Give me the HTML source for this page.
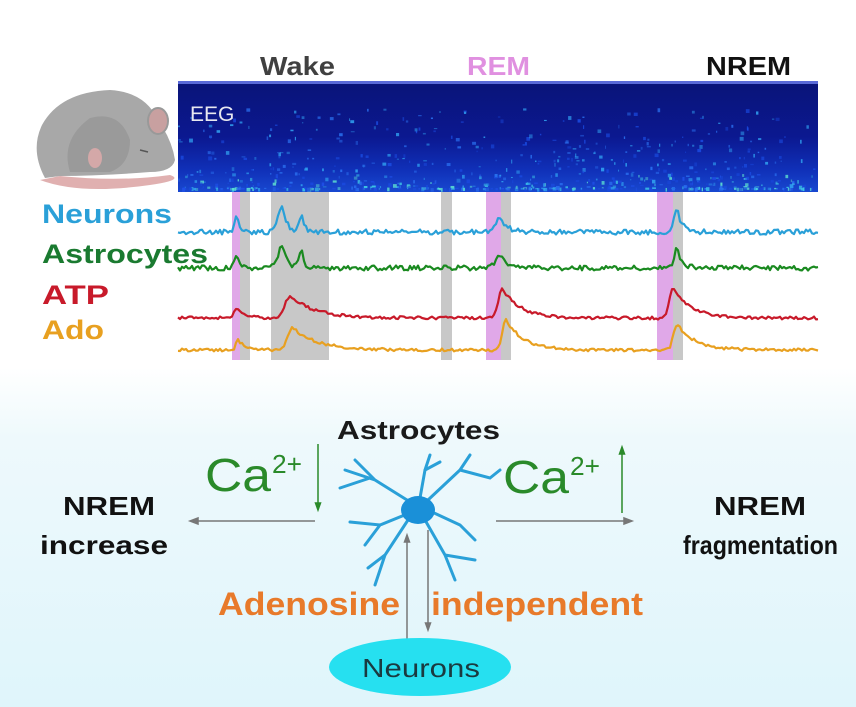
<!DOCTYPE html>
<html><head><meta charset="utf-8"><style>
html,body{margin:0;padding:0}
body{width:856px;height:707px;overflow:hidden;background:linear-gradient(180deg,#ffffff 0%,#ffffff 52%,#eef9fc 62%,#dff5fb 100%);font-family:"Liberation Sans",sans-serif}
svg{position:absolute;left:0;top:0}
</style></head><body>
<svg id="s" width="856" height="707" viewBox="0 0 856 707" xmlns="http://www.w3.org/2000/svg">
<defs>
<linearGradient id="spec" x1="0" y1="0" x2="0" y2="1">
<stop offset="0" stop-color="#0a1478"/><stop offset="0.5" stop-color="#0b1890"/><stop offset="0.8" stop-color="#1030b8"/><stop offset="1" stop-color="#1848d0"/>
</linearGradient>
</defs>
<!-- mouse -->
<path d="M40 180 Q80 195 150 185 Q185 180 170 175 Q120 182 60 176 Z" fill="#e0b0b0"/>
<path d="M45 178 Q30 150 42 125 Q60 92 110 90 Q145 92 158 120 Q172 140 175 160 Q172 172 150 172 Q100 176 60 176 Z" fill="#a8a8a8"/>
<path d="M70 172 Q60 140 90 118 Q120 110 130 140 Q130 165 110 172 Z" fill="#9a9a9a"/>
<ellipse cx="158" cy="121" rx="10" ry="13" fill="#c8a0a0" stroke="#999" stroke-width="2"/>
<ellipse cx="95" cy="158" rx="7" ry="10" fill="#d4a8a8"/>
<path d="M140 150 l8 2" stroke="#555" stroke-width="1.5"/>
<!-- spectrogram -->
<rect x="178" y="81" width="640" height="111" fill="url(#spec)"/>
<rect x="178" y="81" width="640" height="3" fill="#5a6ad8"/>
<g id="spk"></g>
<text x="190" y="121" font-size="21" fill="#e8e8f0">EEG</text>
<!-- bands -->
<rect x="232" y="192" width="8" height="168" fill="#e0a8e8"/>
<rect x="240" y="192" width="10" height="168" fill="#c8c8c8"/>
<rect x="271" y="192" width="58" height="168" fill="#c8c8c8"/>
<rect x="441" y="192" width="11" height="168" fill="#c8c8c8"/>
<rect x="486" y="192" width="15" height="168" fill="#e0a8e8"/>
<rect x="501" y="192" width="10" height="168" fill="#c8c8c8"/>
<rect x="657" y="192" width="16" height="168" fill="#e0a8e8"/>
<rect x="673" y="192" width="10" height="168" fill="#c8c8c8"/>
<g id="tr" fill="none" stroke-width="2.2" stroke-linejoin="round"></g>
<!-- top labels -->
<text x="260" y="75" font-size="26" font-weight="bold" fill="#404040" textLength="75" lengthAdjust="spacingAndGlyphs">Wake</text>
<text x="467" y="75" font-size="26" font-weight="bold" fill="#e090e0" textLength="63" lengthAdjust="spacingAndGlyphs">REM</text>
<text x="706" y="75" font-size="26" font-weight="bold" fill="#111" textLength="85" lengthAdjust="spacingAndGlyphs">NREM</text>
<g font-size="27" font-weight="bold">
<text x="42" y="223" fill="#2aa0d8" textLength="130" lengthAdjust="spacingAndGlyphs">Neurons</text>
<text x="42" y="263" fill="#1a7a30" textLength="166" lengthAdjust="spacingAndGlyphs">Astrocytes</text>
<text x="42" y="304" fill="#c81a2a" textLength="67" lengthAdjust="spacingAndGlyphs">ATP</text>
<text x="42" y="339" fill="#e8a020" textLength="62" lengthAdjust="spacingAndGlyphs">Ado</text>
</g>
<!-- bottom diagram -->
<text x="337" y="439" font-size="26" font-weight="bold" fill="#1a1a1a" textLength="163" lengthAdjust="spacingAndGlyphs">Astrocytes</text>
<text x="205" y="491" font-size="46" fill="#2a8a2a" textLength="66" lengthAdjust="spacingAndGlyphs">Ca</text><text x="272" y="473" font-size="26" fill="#2a8a2a" textLength="30" lengthAdjust="spacingAndGlyphs">2+</text>
<text x="503" y="493" font-size="46" fill="#2a8a2a" textLength="66" lengthAdjust="spacingAndGlyphs">Ca</text><text x="570" y="475" font-size="26" fill="#2a8a2a" textLength="30" lengthAdjust="spacingAndGlyphs">2+</text>
<g stroke="#2a8a2a" stroke-width="1.5" fill="#2a8a2a">
<line x1="318" y1="444" x2="318" y2="505"/><path d="M315.5 503 L318 510 L320.5 503Z"/>
<line x1="622" y1="513" x2="622" y2="452"/><path d="M619.5 454 L622 447 L624.5 454Z"/>
</g>
<g stroke="#777" stroke-width="1.5" fill="#777">
<line x1="315" y1="521" x2="196" y2="521"/><path d="M198 518 L190 521 L198 524Z"/>
<line x1="496" y1="521" x2="626" y2="521"/><path d="M624 518 L632 521 L624 524Z"/>
<line x1="407" y1="640" x2="407" y2="540"/><path d="M404.5 542 L407 535 L409.5 542Z"/>
<line x1="428" y1="530" x2="428" y2="625"/><path d="M425.5 623 L428 630 L430.5 623Z"/>
</g>
<g font-size="26" font-weight="bold" fill="#111">
<text x="63" y="515" textLength="92" lengthAdjust="spacingAndGlyphs">NREM</text><text x="40" y="554" textLength="128" lengthAdjust="spacingAndGlyphs">increase</text>
<text x="714" y="515" textLength="92" lengthAdjust="spacingAndGlyphs">NREM</text><text x="683" y="554" textLength="155" lengthAdjust="spacingAndGlyphs">fragmentation</text>
</g>
<!-- astrocyte -->
<g stroke="#2aa0d8" stroke-width="3" fill="none" stroke-linecap="round">
<path d="M415 505 L375 480 L345 470 M375 480 L355 460 M370 478 L340 488"/>
<path d="M412 512 L380 525 L350 522 M380 525 L365 545"/>
<path d="M408 520 L385 555 L375 585 M385 555 L368 568"/>
<path d="M420 498 L425 470 L430 455 M425 470 L440 462"/>
<path d="M428 500 L460 470 L470 455 M460 470 L490 478 L500 470"/>
<path d="M432 512 L460 525 L475 540"/>
<path d="M425 520 L445 555 L475 560 M445 555 L455 580"/>
</g>
<ellipse cx="418" cy="510" rx="17" ry="14" fill="#1a90d8"/>
<g font-size="32" font-weight="bold" fill="#e87a2a">
<text x="218" y="615" textLength="182" lengthAdjust="spacingAndGlyphs">Adenosine</text><text x="431" y="615" textLength="212" lengthAdjust="spacingAndGlyphs">independent</text>
</g>
<ellipse cx="420" cy="667" rx="91" ry="29" fill="#26e0f0"/>
<text x="362" y="677" font-size="26" fill="#1a3a40" textLength="118" lengthAdjust="spacingAndGlyphs">Neurons</text>
</svg>
<script>
(function(){
var seed=7;function r(){seed=(seed*16807)%2147483647;return seed/2147483647;}
var NS="http://www.w3.org/2000/svg";
var g=document.getElementById("spk");
var cols=["#1a4ae0","#2a70f0","#30a0f0","#40d0e8","#60e8d0","#2050e8"];
for(var i=0;i<700;i++){var x=178+r()*636;var yy=192-Math.pow(r(),3)*80;var e=document.createElementNS(NS,"rect");
e.setAttribute("x",x);e.setAttribute("y",yy-4);e.setAttribute("width",1+r()*3);e.setAttribute("height",1+r()*3);
var c=cols[Math.floor(r()*(yy>178?6:3))];e.setAttribute("fill",c);e.setAttribute("opacity",0.4+r()*0.5);g.appendChild(e);}
var tr=document.getElementById("tr");
function peak(x,c,h,w,asym){if(x<c)return h*Math.exp(-Math.pow((x-c)/(w*0.5),2));return h*Math.exp(-(x-c)/(w*asym));}
function mk(base,color,peaks,noise){var d="";for(var x=178;x<=818;x+=2){var y=base+(r()-0.5)*noise;for(var k=0;k<peaks.length;k++){var p=peaks[k];y-=peak(x,p[0],p[1],p[2],p[3]);}d+=(x==178?"M":"L")+x+" "+y.toFixed(1);}
var p=document.createElementNS(NS,"path");p.setAttribute("d",d);p.setAttribute("stroke",color);tr.appendChild(p);}
mk(232,"#2aa0d8",[[237,18,6,0.5],[283,24,14,0.3],[302,18,8,0.3],[500,14,12,0.6],[677,24,8,0.6]],5);
mk(268,"#1a8a20",[[237,16,6,0.5],[283,22,14,0.3],[302,18,8,0.3],[500,14,12,0.6],[677,20,8,0.6]],5);
mk(318,"#c81a2a",[[236,10,6,1.5],[290,22,14,1.8],[502,30,10,1.8],[673,30,10,1.8]],3);
mk(350,"#e8a020",[[238,10,6,1.5],[293,22,14,1.8],[506,30,10,1.8],[677,26,10,1.8]],3);
})();
</script>
</body></html>
